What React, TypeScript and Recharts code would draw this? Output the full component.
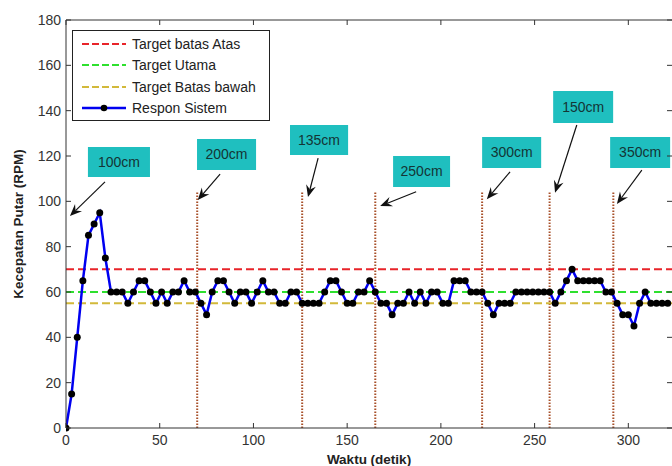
import { LineChart, Line, XAxis, YAxis, ReferenceLine, ReferenceArea } from "recharts";

// waktu (detik)
const times = [
  0, 3, 6, 9, 12, 15, 18, 21, 24, 27,
  30, 33, 36, 39, 42, 45, 48, 51, 54, 57,
  60, 63, 66, 69, 72, 75, 78, 81, 84, 87,
  90, 93, 96, 99, 102, 105, 108, 111, 114, 117,
  120, 123, 126, 129, 132, 135, 138, 141, 144, 147,
  150, 153, 156, 159, 162, 165, 168, 171, 174, 177,
  180, 183, 186, 189, 192, 195, 198, 201, 204, 207,
  210, 213, 216, 219, 222, 225, 228, 231, 234, 237,
  240, 243, 246, 249, 252, 255, 258, 261, 264, 267,
  270, 273, 276, 279, 282, 285, 288, 291, 294, 297,
  300, 303, 306, 309, 312, 315, 318, 321,
];

// respon sistem (RPM)
const rpm = [
  0, 15, 40, 65, 85, 90, 95, 75, 60, 60,
  60, 55, 60, 65, 65, 60, 55, 60, 55, 60,
  60, 65, 60, 60, 55, 50, 60, 65, 65, 60,
  55, 60, 60, 55, 60, 65, 60, 60, 55, 55,
  60, 60, 55, 55, 55, 55, 60, 65, 65, 60,
  55, 55, 60, 60, 65, 60, 55, 55, 50, 55,
  55, 60, 55, 60, 55, 60, 60, 55, 55, 65,
  65, 65, 60, 60, 60, 55, 50, 55, 55, 55,
  60, 60, 60, 60, 60, 60, 60, 55, 60, 65,
  70, 65, 65, 65, 65, 65, 60, 60, 55, 50,
  50, 45, 55, 60, 55, 55, 55, 55,
];

const xTicks = [0, 50, 100, 150, 200, 250, 300];
const yTicks = [0, 20, 40, 60, 80, 100, 120, 140, 160, 180];

const targetAtas = 70;
const targetUtama = 60;
const targetBawah = 55;

// saat jarak target diganti
const switchTimes = [70, 126, 165, 222, 258, 292];
const switchTop = 104;

const distanceLabels = ["100cm", "200cm", "135cm", "250cm", "300cm", "150cm", "350cm"];

const legendNames = ["Target batas Atas", "Target Utama", "Target Batas bawah", "Respon Sistem"];

// annotation placement, in data units
const boxes = [
  { x1: 11.7, x2: 44.8, y1: 110.7, y2: 124 },
  { x1: 69.9, x2: 101.4, y1: 113.8, y2: 127.5 },
  { x1: 119.5, x2: 150.5, y1: 120.4, y2: 133.7 },
  { x1: 174.5, x2: 204.9, y1: 106.3, y2: 120 },
  { x1: 222, x2: 253.5, y1: 114.7, y2: 128.4 },
  { x1: 259.9, x2: 291.9, y1: 134.6, y2: 148.7 },
  { x1: 290.3, x2: 322.3, y1: 114.7, y2: 128.4 },
];
const arrows = [
  [{ x: 20.8, y: 108.6 }, { x: 2.1, y: 93.5 }],
  [{ x: 82.2, y: 112 }, { x: 70.3, y: 100.6 }],
  [{ x: 134.5, y: 119.1 }, { x: 129.1, y: 101.9 }],
  [{ x: 186.8, y: 104.2 }, { x: 167.6, y: 97.9 }],
  [{ x: 236.9, y: 113 }, { x: 224.5, y: 100.9 }],
  [{ x: 272.5, y: 133.7 }, { x: 260.9, y: 103.8 }],
  [{ x: 307.2, y: 113.8 }, { x: 293.9, y: 98.8 }],
];

const data = times.map((t, i) => ({ t, rpm: rpm[i] }));

const W = 672;
const H = 466;
const PLOT_LEFT = 66;
const PLOT_TOP = 20;
const PLOT_BOTTOM = 428;
const FONT = "'Liberation Sans', Arial, sans-serif";

const RED = "#e8242a";
const GREEN = "#2ee02e";
const YELLOW = "#d2b93a";
const BLUE = "#0000f0";
const TEAL = "#1fbfbf";
const MARKER = "#a8502a";

const legendColors = [RED, GREEN, YELLOW, BLUE];

function XTick(props: any) {
  const { x, payload } = props;
  return (
    <g>
      <line x1={x} y1={PLOT_BOTTOM} x2={x} y2={PLOT_BOTTOM - 5} stroke="#333" />
      <line x1={x} y1={PLOT_TOP} x2={x} y2={PLOT_TOP + 5} stroke="#333" />
      <text x={x} y={PLOT_BOTTOM + 17} textAnchor="middle" fontSize={14} fill="#333" fontFamily={FONT}>
        {payload.value}
      </text>
    </g>
  );
}

function YTick(props: any) {
  const { y, payload } = props;
  return (
    <g>
      <line x1={PLOT_LEFT} y1={y} x2={PLOT_LEFT + 5} y2={y} stroke="#333" />
      <line x1={W} y1={y} x2={W - 5} y2={y} stroke="#333" />
      <text x={PLOT_LEFT - 5} y={y + 5} textAnchor="end" fontSize={14} fill="#333" fontFamily={FONT}>
        {payload.value}
      </text>
    </g>
  );
}

function Arrow(props: any) {
  const { x1, y1, x2, y2 } = props;
  const a = Math.atan2(y2 - y1, x2 - x1);
  const c = Math.cos(a);
  const s = Math.sin(a);
  const len = 12;
  const half = 5;
  const bx = x2 - len * c;
  const by = y2 - len * s;
  const nx = x2 - len * 0.65 * c;
  const ny = y2 - len * 0.65 * s;
  const pts = [
    [x2, y2],
    [bx - half * s, by + half * c],
    [nx, ny],
    [bx + half * s, by - half * c],
  ]
    .map((p) => p.join(","))
    .join(" ");
  return (
    <g>
      <line x1={x1} y1={y1} x2={nx} y2={ny} stroke="#111" strokeWidth={1.2} />
      <polygon points={pts} fill="#111" />
    </g>
  );
}

function LegendBox() {
  return (
    <div
      style={{
        position: "absolute",
        left: 72,
        top: 30,
        width: 198,
        height: 91,
        border: "1px solid #222",
        background: "#fff",
        paddingTop: 2,
        boxSizing: "border-box",
        fontFamily: FONT,
        fontSize: 14,
        color: "#222",
      }}
    >
      {legendNames.map((name, i) => (
        <div key={name} style={{ display: "flex", alignItems: "center", height: 21.5 }}>
          <svg width={44} height={10} style={{ marginLeft: 9, flex: "none" }}>
            {i < 3 ? (
              <line x1={0} y1={5} x2={44} y2={5} stroke={legendColors[i]} strokeWidth={2} strokeDasharray="7 3" />
            ) : (
              <g>
                <line x1={0} y1={5} x2={44} y2={5} stroke={BLUE} strokeWidth={2.5} />
                <circle cx={22} cy={5} r={3.3} fill="#000" />
              </g>
            )}
          </svg>
          <span style={{ marginLeft: 6, whiteSpace: "nowrap" }}>{name}</span>
        </div>
      ))}
    </div>
  );
}

export default function App() {
  return (
    <div style={{ position: "absolute", left: 0, top: 0, width: W, height: H, overflow: "hidden", background: "#fff" }}>
      <LineChart width={W} height={H} data={data} margin={{ top: PLOT_TOP, right: 0, bottom: 0, left: 0 }}>
        <XAxis
          dataKey="t"
          type="number"
          domain={[0, 323.3]}
          ticks={xTicks}
          allowDataOverflow
          height={H - PLOT_BOTTOM}
          tickLine={false}
          tick={(p: any) => <XTick {...p} />}
          axisLine={{ stroke: "#333" }}
          label={{
            value: "Waktu (detik)",
            position: "center",
            dy: 12,
            style: { fontFamily: FONT, fontSize: 13.5, fontWeight: "bold", fill: "#222" },
          }}
        />
        <YAxis
          type="number"
          domain={[0, 180]}
          ticks={yTicks}
          width={PLOT_LEFT}
          tickLine={false}
          tick={(p: any) => <YTick {...p} />}
          axisLine={{ stroke: "#333" }}
          label={{
            value: "Kecepatan Putar (RPM)",
            angle: -90,
            position: "center",
            dx: -15,
            style: { fontFamily: FONT, fontSize: 13.5, fontWeight: "bold", fill: "#222" },
          }}
        />
        <ReferenceLine y={180} stroke="#333" />

        {switchTimes.map((t) => (
          <ReferenceLine
            key={"sw" + t}
            segment={[
              { x: t, y: 0 },
              { x: t, y: switchTop },
            ]}
            stroke={MARKER}
            strokeWidth={2}
            strokeDasharray="1.5 1.5"
          />
        ))}

        <ReferenceLine y={targetAtas} stroke={RED} strokeWidth={2} strokeDasharray="8 4" />
        <ReferenceLine y={targetUtama} stroke={GREEN} strokeWidth={2} strokeDasharray="8 4" />
        <ReferenceLine y={targetBawah} stroke={YELLOW} strokeWidth={2} strokeDasharray="8 4" />

        <Line
          dataKey="rpm"
          stroke={BLUE}
          strokeWidth={2.5}
          dot={{ r: 3.5, fill: "#000", stroke: "#000", strokeWidth: 0 }}
          isAnimationActive={false}
        />

        {boxes.map((b, i) => (
          <ReferenceArea
            key={"box" + i}
            x1={b.x1}
            x2={b.x2}
            y1={b.y1}
            y2={b.y2}
            fill={TEAL}
            fillOpacity={1}
            stroke="none"
            ifOverflow="visible"
            label={{
              value: distanceLabels[i],
              position: "center",
              fill: "#143535",
              fontSize: 14,
              fontFamily: FONT,
            }}
          />
        ))}

        {arrows.map((seg, i) => (
          <ReferenceLine key={"ar" + i} segment={seg} ifOverflow="visible" shape={(p: any) => <Arrow {...p} />} />
        ))}
      </LineChart>
      <LegendBox />
    </div>
  );
}
